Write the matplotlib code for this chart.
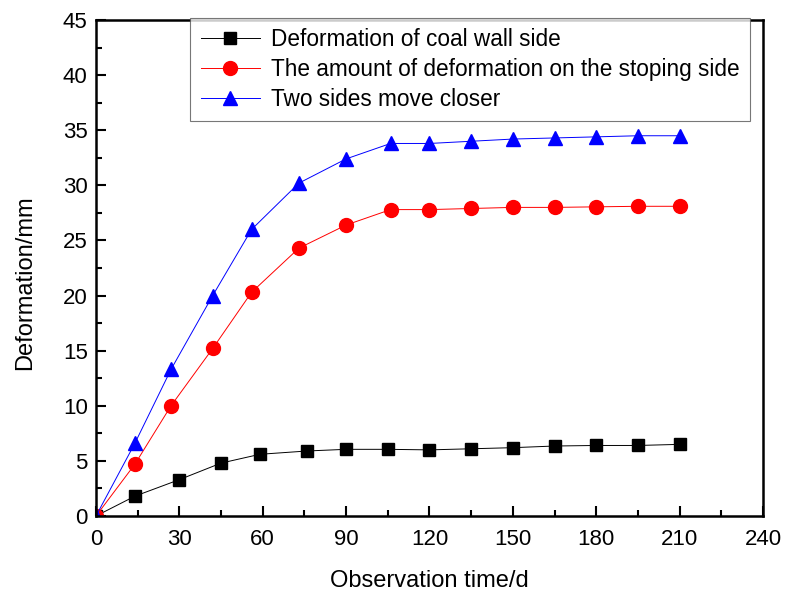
import matplotlib
matplotlib.use('Agg')
import matplotlib.pyplot as plt
from matplotlib.ticker import MultipleLocator

plt.rcParams["font.family"] = ["Liberation Sans", "DejaVu Sans"]

# observation days
days_coal = [0, 14, 30, 45, 59, 76, 90, 105, 120, 135, 150, 165, 180, 195, 210]
days_stope = [0, 14, 27, 42, 56, 73, 90, 106, 120, 135, 150, 165, 180, 195, 210]

# deformation values (mm)
coal_wall = [0, 1.8, 3.3, 4.8, 5.6, 5.9, 6.05, 6.05, 6.0, 6.1, 6.2, 6.35, 6.4, 6.4, 6.5]
stoping = [0, 4.7, 10.0, 15.2, 20.3, 24.3, 26.4, 27.8, 27.8, 27.9, 28.0, 28.0, 28.05, 28.1, 28.1]
two_sides = [0, 6.6, 13.3, 20.0, 26.0, 30.2, 32.4, 33.8, 33.8, 34.0, 34.2, 34.3, 34.4, 34.5, 34.5]

labels = ['Deformation of coal wall side',
          'The amount of deformation on the stoping side',
          'Two sides move closer']

fig = plt.figure(figsize=(7.9, 5.94), dpi=100)
ax = fig.add_axes([0.1215, 0.1313, 0.8443, 0.835])

ax.plot(days_coal, coal_wall, '-s', color='black', lw=0.7, ms=9, label=labels[0])
ax.plot(days_stope, stoping, '-o', color='red', lw=0.7, ms=10, label=labels[1])
ax.plot(days_stope, two_sides, '-^', color='blue', lw=0.7, ms=10, label=labels[2])

ax.set_xlim(0, 240)
ax.set_ylim(0, 45)
ax.xaxis.set_major_locator(MultipleLocator(30))
ax.xaxis.set_minor_locator(MultipleLocator(15))
ax.yaxis.set_major_locator(MultipleLocator(5))
ax.yaxis.set_minor_locator(MultipleLocator(2.5))
ax.tick_params(which='both', direction='in', top=False, right=False, width=1.5)
ax.tick_params(which='major', length=7, labelsize=16)
ax.tick_params(axis='x', which='major', pad=9)
ax.tick_params(axis='y', which='major', pad=6)
ax.tick_params(which='minor', length=4)
for spine in ax.spines.values():
    spine.set_linewidth(1.8)

ax.set_xlabel('Observation time/d', fontsize=17)
ax.set_ylabel('Deformation/mm', fontsize=17)
ax.xaxis.set_label_coords(0.5, -0.108)
ax.yaxis.set_label_coords(-0.09, 0.47)

leg = ax.legend(loc='upper right', bbox_to_anchor=(0.98, 1.004), fontsize=16.3,
                frameon=True, fancybox=False, edgecolor='#555555',
                handlelength=2.6, handletextpad=0.5, borderaxespad=0.0,
                labelspacing=0.3, borderpad=0.45)
leg.get_frame().set_linewidth(0.8)

fig.savefig('out.png', dpi=100)
